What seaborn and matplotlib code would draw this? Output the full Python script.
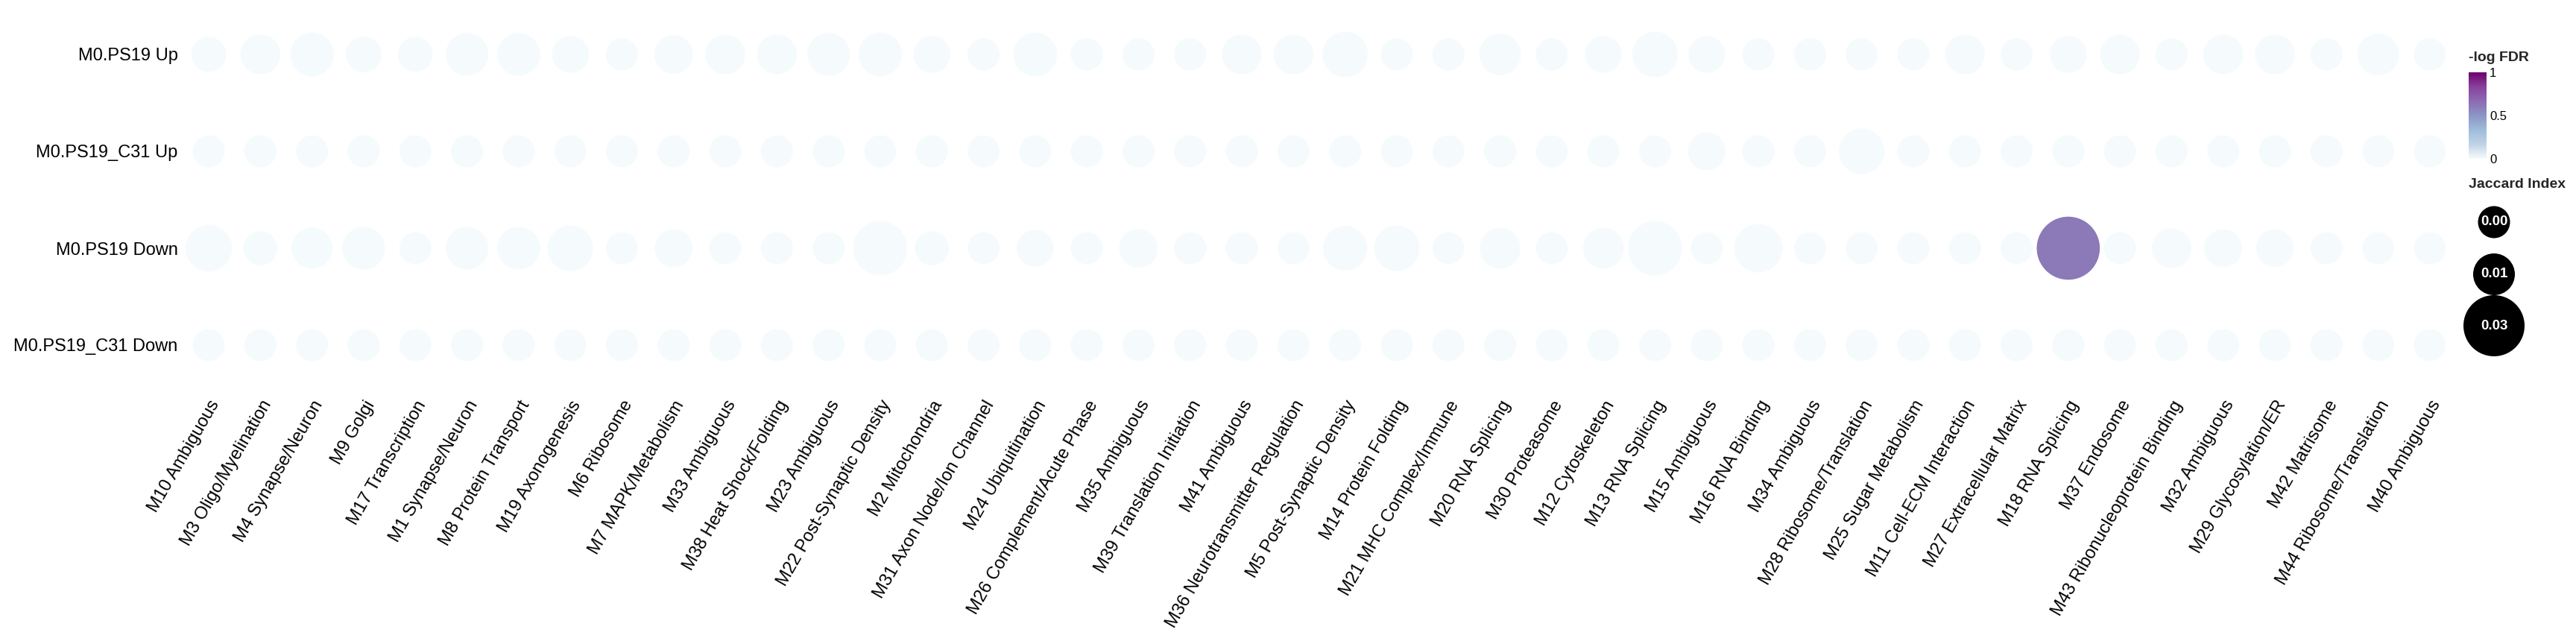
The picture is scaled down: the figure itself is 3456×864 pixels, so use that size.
"""Dot plot: overlap of M0.PS19 signatures with co-expression modules."""

import numpy as np
import pandas as pd
import matplotlib

matplotlib.use("Agg")
import matplotlib.pyplot as plt
from matplotlib.colors import LinearSegmentedColormap, Normalize
from matplotlib.cm import ScalarMappable
import seaborn as sns

DPI = 100

# --- data -----------------------------------------------------------------
modules = [
    "M10 Ambiguous", "M3 Oligo/Myelination", "M4 Synapse/Neuron", "M9 Golgi",
    "M17 Transcription", "M1 Synapse/Neuron", "M8 Protein Transport",
    "M19 Axonogenesis", "M6 Ribosome", "M7 MAPK/Metabolism", "M33 Ambiguous",
    "M38 Heat Shock/Folding", "M23 Ambiguous", "M22 Post-Synaptic Density",
    "M2 Mitochondria", "M31 Axon Node/Ion Channel", "M24 Ubiquitination",
    "M26 Complement/Acute Phase", "M35 Ambiguous", "M39 Translation Initiation",
    "M41 Ambiguous", "M36 Neurotransmitter Regulation",
    "M5 Post-Synaptic Density", "M14 Protein Folding", "M21 MHC Complex/Immune",
    "M20 RNA Splicing", "M30 Proteasome", "M12 Cytoskeleton", "M13 RNA Splicing",
    "M15 Ambiguous", "M16 RNA Binding", "M34 Ambiguous",
    "M28 Ribosome/Translation", "M25 Sugar Metabolism",
    "M11 Cell-ECM Interaction", "M27 Extracellular Matrix", "M18 RNA Splicing",
    "M37 Endosome", "M43 Ribonucleoprotein Binding", "M32 Ambiguous",
    "M29 Glycosylation/ER", "M42 Matrisome", "M44 Ribosome/Translation",
    "M40 Ambiguous",
]

signatures = ["M0.PS19 Up", "M0.PS19_C31 Up", "M0.PS19 Down", "M0.PS19_C31 Down"]

jaccard_ps19_up = [
    0.003, 0.008, 0.012, 0.004, 0.003, 0.011, 0.011, 0.005, 0.0, 0.007, 0.008,
    0.008, 0.011, 0.012, 0.005, 0.0, 0.012, 0.0, 0.0, 0.0, 0.008, 0.008,
    0.014, 0.0, 0.0, 0.010, 0.0, 0.005, 0.014, 0.005, 0.0, 0.0, 0.0,
    0.0, 0.008, 0.0, 0.005, 0.008, 0.0, 0.008, 0.008, 0.0, 0.010, 0.0,
]
jaccard_c31_up = [
    0.0, 0.0, 0.0, 0.0, 0.0, 0.0, 0.0, 0.0, 0.0, 0.0, 0.0,
    0.0, 0.0, 0.0, 0.0, 0.0, 0.0, 0.0, 0.0, 0.0, 0.0, 0.0,
    0.0, 0.0, 0.0, 0.0, 0.0, 0.0, 0.0, 0.006, 0.0, 0.0, 0.014,
    0.0, 0.0, 0.0, 0.0, 0.0, 0.0, 0.0, 0.0, 0.0, 0.0, 0.0,
]
jaccard_ps19_down = [
    0.015, 0.002, 0.009, 0.011, 0.0, 0.011, 0.011, 0.014, 0.0, 0.006, 0.0,
    0.0, 0.0, 0.023, 0.002, 0.0, 0.005, 0.0, 0.007, 0.0, 0.0, 0.0,
    0.013, 0.014, 0.0, 0.009, 0.0, 0.009, 0.023, 0.0, 0.017, 0.0, 0.0,
    0.0, 0.0, 0.0, 0.032, 0.0, 0.008, 0.006, 0.006, 0.0, 0.0, 0.0,
]
jaccard_c31_down = [0.0] * 44

# -log FDR: only M18 RNA Splicing vs M0.PS19 Down is above zero
neglog_fdr_ps19_down = [0.0] * 36 + [0.61] + [0.0] * 7
neglog_fdr_zero = [0.0] * 44

jaccard_rows = [jaccard_ps19_up, jaccard_c31_up, jaccard_ps19_down, jaccard_c31_down]
fdr_rows = [neglog_fdr_zero, neglog_fdr_zero, neglog_fdr_ps19_down, neglog_fdr_zero]

legend_breaks = [0.0, 0.01, 0.03]
legend_labels = ["0.00", "0.01", "0.03"]
cbar_ticks = [0, 0.5, 1]

# --- long table -----------------------------------------------------------
records = []
for sig, jac, fdr in zip(signatures, jaccard_rows, fdr_rows):
    for mod, j, f in zip(modules, jac, fdr):
        records.append({"module": mod, "signature": sig, "jaccard": j, "fdr": f})
df = pd.DataFrame(records)


def dot_area(v):
    """Diameter grows linearly with the Jaccard index (pixels -> points^2)."""
    d_px = 43 + 1300 * v
    return (d_px * 72 / DPI) ** 2


cmap = LinearSegmentedColormap.from_list(
    "bupu7",
    ["#f5fbfc", "#bfd3e6", "#9ebcda", "#8c96c6", "#8c6bb1", "#88419d", "#6e016b"],
)

sns.set_theme(style="white")
plt.rcParams["font.family"] = ["Liberation Sans", "DejaVu Sans"]

W, H = 3456, 864
fig = plt.figure(figsize=(W / DPI, H / DPI), dpi=DPI)


def px_axes(x0, y0, x1, y1):
    return fig.add_axes([x0 / W, 1 - y1 / H, (x1 - x0) / W, (y1 - y0) / H])


ax = px_axes(245.4, 8, 3294.6, 528)
sns.scatterplot(
    data=df, x="module", y="signature",
    hue="fdr", palette=cmap, hue_norm=(0, 1),
    size="jaccard", sizes={v: dot_area(v) for v in df["jaccard"].unique()},
    linewidth=0, legend=False, ax=ax,
)
ax.set_xlim(-0.5, len(modules) - 0.5)
ax.set_ylim(len(signatures) - 0.5, -0.5)
ax.set_xlabel("")
ax.set_ylabel("")
sns.despine(ax=ax, left=True, bottom=True)
ax.tick_params(axis="both", length=0, labelsize=17, labelcolor="black")
ax.tick_params(axis="y", pad=5)
ax.tick_params(axis="x", pad=4)
for lab in ax.get_xticklabels():
    lab.set_rotation(60)
    lab.set_ha("right")
    lab.set_va("top")
    lab.set_rotation_mode("anchor")

# colour bar
cax = px_axes(3312, 97, 3336, 213)
cb = fig.colorbar(ScalarMappable(norm=Normalize(0, 1), cmap=cmap), cax=cax)
cb.outline.set_visible(False)
cb.set_ticks(cbar_ticks)
cb.set_ticklabels(["0", "0.5", "1"])
cax.tick_params(direction="in", color="white", labelcolor="black", length=4,
                width=1.3, left=True, right=True, labelsize=12, pad=3)
fig.text(3312 / W, 1 - 78 / H, "-log FDR", fontsize=14, fontweight="bold",
         ha="left", va="center")

# size legend
fig.text(3312 / W, 1 - 247 / H, "Jaccard Index", fontsize=14, fontweight="bold",
         ha="left", va="center")
lax = px_axes(3290, 260, 3410, 490)
lax.set_xlim(3290, 3410)
lax.set_ylim(490, 260)
lax.axis("off")
leg_y = [298, 368, 437]
lax.scatter([3346] * 3, leg_y, s=[dot_area(v) for v in legend_breaks],
            color="black", linewidth=0)
for y, lab in zip(leg_y, legend_labels):
    lax.text(3346, y, lab, color="white", fontsize=13.5, fontweight="bold",
             ha="center", va="center")

fig.savefig("out.png", dpi=DPI, facecolor="white")
